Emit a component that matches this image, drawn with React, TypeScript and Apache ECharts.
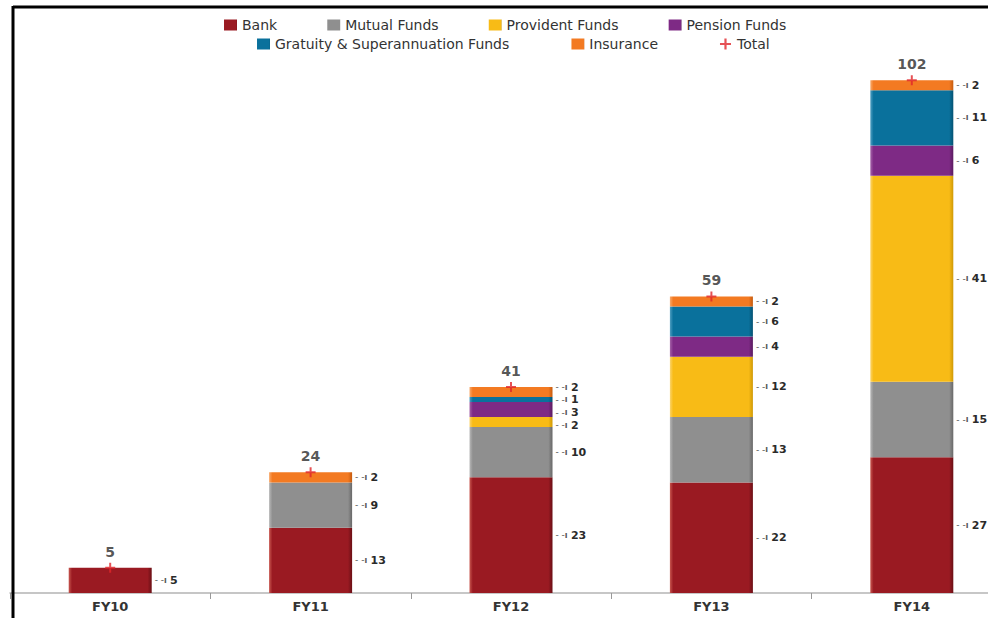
import React, { useEffect, useRef } from "react";
import * as echarts from "echarts";

const categories = ["FY10", "FY11", "FY12", "FY13", "FY14"];
const bank = [5, 13, 23, 22, 27];
const mutualFunds = [null, 9, 10, 13, 15];
const providentFunds = [null, null, 2, 12, 41];
const pensionFunds = [null, null, 3, 4, 6];
const gratuityFunds = [null, null, 1, 6, 11];
const insurance = [null, 2, 2, 2, 2];
const totals = [5, 24, 41, 59, 102];

const FONT = "'DejaVu Sans', 'Liberation Sans', Arial, sans-serif";
const PLUS = "path://M4,0H6V4H10V6H6V10H4V6H0V4H4Z";

const seriesDefs = [
  { name: "Bank", data: bank, base: "#9a1a22", light: "#c8574f", dark: "#6a0f15" },
  { name: "Mutual Funds", data: mutualFunds, base: "#8f8f8f", light: "#b8b8b8", dark: "#686868" },
  { name: "Provident Funds", data: providentFunds, base: "#f8bb16", light: "#fbd46c", dark: "#cf9906" },
  { name: "Pension Funds", data: pensionFunds, base: "#7e2a85", light: "#a462a8", dark: "#5a1b60" },
  { name: "Gratuity & Superannuation Funds", data: gratuityFunds, base: "#0a719c", light: "#4f9ec1", dark: "#055272" },
  { name: "Insurance", data: insurance, base: "#f37a22", light: "#f8aa6c", dark: "#c55b0e" },
];

// small label nudges for crowded FY12 segments
const nudge: Record<string, Record<number, number[]>> = {
  "Provident Funds": { 2: [0, 3] },
  "Pension Funds": { 2: [0, 3] },
  "Gratuity & Superannuation Funds": { 2: [0, 0.5] },
  Insurance: { 2: [0, -4.5] },
};

export default function App() {
  const ref = useRef<HTMLDivElement>(null);
  useEffect(() => {
    if (!ref.current) return;
    const chart = echarts.init(ref.current, null, { renderer: "svg" });
    const bars = seriesDefs.map((s) => ({
      name: s.name,
      type: "bar",
      stack: "total",
      barWidth: 83,
      z: 2,
      itemStyle: {
        color: new echarts.graphic.LinearGradient(0, 0, 1, 0, [
          { offset: 0, color: s.light },
          { offset: 0.04, color: s.base },
          { offset: 0.95, color: s.base },
          { offset: 1, color: s.dark },
        ]),
      },
      data: s.data.map((v, i) => {
        const n = nudge[s.name] && nudge[s.name][i];
        return n ? { value: v, label: { offset: n } } : v;
      }),
      label: {
        show: true,
        position: "right",
        distance: 3,
        lineHeight: 11,
        formatter: (p: any) =>
          p.value == null ? "" : "{l|- -}{t|ı} {v|" + p.value + "}",
        rich: {
          l: { fontSize: 9, lineHeight: 11, color: "#555", fontFamily: FONT },
          t: { fontSize: 8, lineHeight: 11, color: "#555", fontFamily: FONT, fontWeight: "bold" },
          v: { fontSize: 11, lineHeight: 11, fontWeight: "bold", color: "#2a2a2a", fontFamily: FONT },
        },
      },
    }));

    const legendText = { fontSize: 14, color: "#333", fontFamily: FONT };
    const option: any = {
      animation: false,
      backgroundColor: "#ffffff",
      color: seriesDefs.map((s) => s.base),
      legend: [
        {
          top: 13,
          left: 219,
          itemGap: 50,
          itemWidth: 13,
          itemHeight: 11,
          textStyle: legendText,
          data: seriesDefs.slice(0, 4).map((s) => ({ name: s.name, icon: "rect" })),
        },
        {
          top: 32,
          left: 252,
          itemGap: 62,
          itemWidth: 13,
          itemHeight: 11,
          textStyle: legendText,
          data: [
            ...seriesDefs.slice(4).map((s) => ({ name: s.name, icon: "rect" })),
            { name: "Total", icon: PLUS },
          ],
        },
      ],
      grid: { left: 10, right: 18, top: 40, bottom: 25, containLabel: false },
      xAxis: {
        type: "category",
        data: categories,
        axisLine: { lineStyle: { color: "#b4b4b4", width: 1.5 } },
        axisTick: { show: true, length: 6, lineStyle: { color: "#999" } },
        axisLabel: {
          fontSize: 13,
          fontWeight: "bold",
          color: "#333",
          fontFamily: FONT,
          margin: 7,
        },
      },
      yAxis: { type: "value", min: 0, max: 110, show: false },
      series: [
        ...bars,
        {
          name: "Total",
          type: "scatter",
          data: totals,
          symbol: PLUS,
          symbolSize: 10,
          z: 5,
          itemStyle: { color: "#e0252b" },
          label: {
            show: true,
            position: "top",
            distance: 4,
            fontSize: 14,
            fontWeight: "bold",
            color: "#2a2a2a",
            fontFamily: FONT,
          },
        },
      ],
      graphic: [
        {
          type: "line",
          z: 100,
          shape: { x1: 13, y1: 7, x2: 1030, y2: 7 },
          style: { stroke: "#000", lineWidth: 3 },
        },
        {
          type: "line",
          z: 100,
          shape: { x1: 13, y1: 6, x2: 13, y2: 618 },
          style: { stroke: "#000", lineWidth: 3 },
        },
      ],
    };
    chart.setOption(option);
    return () => chart.dispose();
  }, []);
  return (
    <div
      style={{
        position: "absolute",
        left: 0,
        top: 0,
        width: 988,
        height: 618,
        overflow: "hidden",
      }}
    >
      <div ref={ref} style={{ width: 1030, height: 618 }} />
    </div>
  );
}
